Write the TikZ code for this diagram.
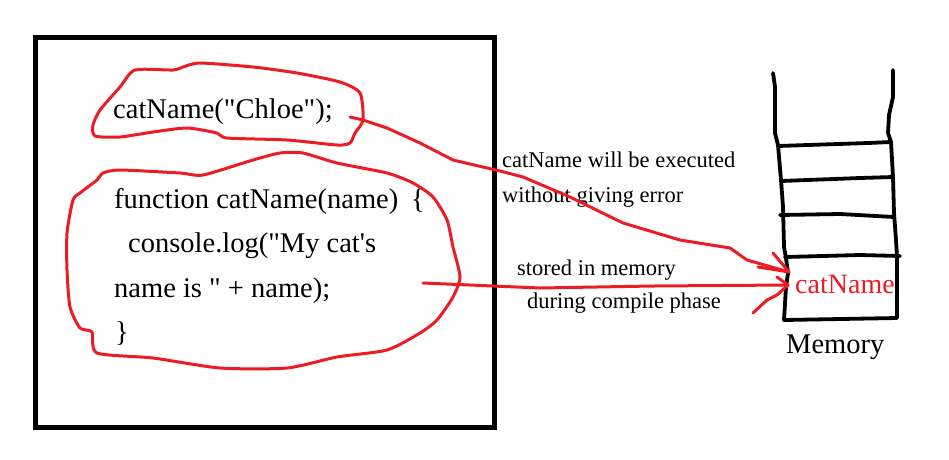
\documentclass[tikz,border=0pt]{standalone}
\usepackage{fontspec}
\setmainfont{Liberation Serif}[Ligatures=TeXOff]
\usetikzlibrary{positioning}
\definecolor{PaintRed}{RGB}{237,28,36}

\begin{document}
\begin{tikzpicture}[
    x=1pt,y=-1pt,
    code/.style={anchor=base west, inner sep=0pt, font=\fontsize{28.5}{34}\selectfont},
    note/.style={anchor=base west, inner sep=0pt, font=\fontsize{22.5}{27}\selectfont},
    ink/.style={line width=3.8pt, line cap=round, line join=round},
    redink/.style={line width=3pt, draw=PaintRed, line cap=round, line join=round}
  ]
    \useasboundingbox (0,0) rectangle (949,459);
    \draw[line width=5pt] (35,37) rectangle (494,427);
    % code in the box
    \node[code] (chloe) at (113,118) {catName("Chloe");};
    \foreach \y/\xx/\name/\lab in {208/114/fnline/function catName(name)\hspace{0.45em}\{,252/128/logline/console.log("My cat's,297/114/nameline/name is " + name);,341/115/closeline/\}} {
      \node[code] (\name) at (\xx,\y) {\lab};
    }
    \draw[redink] plot[smooth cycle, tension=0.4] coordinates {(95,136) (93,125) (100,110) (120,87) (135,70) (173,70) (183,67) (200,63) (253,67) (297,73) (340,82) (360,93) (363,120) (355,133) (350,143) (337,145) (287,140) (227,138) (217,133) (187,128) (153,132) (120,137)};
    \draw[redink] plot[smooth cycle, tension=0.4] coordinates {(103,173) (120,170) (180,173) (203,175) (253,160) (280,153) (303,153) (337,163) (387,173) (413,183) (433,197) (447,220) (453,247) (460,277) (453,297) (437,320) (420,333) (387,350) (337,357) (287,368) (220,368) (153,358) (97,353) (92,332) (80,328) (70,307) (67,270) (67,233) (73,200) (80,193) (97,180)};
    % notes
    \node[note] (execA) at (502,167) {catName will be executed};
    \node[note] (execB) at (502,202) {without giving error};
    \node[note] (storeA) at (517,275) {stored in memory};
    \node[note] (storeB) at (527,308) {during compile phase};
    % memory stack
    \draw[ink] (773,73) -- (775,87) -- (775,133) -- (778,145) -- (781,180) -- (783,207) -- (784,247) -- (786,258) -- (788,273) -- (786,287) -- (784,320) -- (897,318) -- (897,257) -- (896,240) -- (894,213) -- (893,177) -- (891,142) -- (888,133) -- (889,115) -- (893,97) -- (893,70);
    \foreach \xa/\ya/\xm/\ym/\xb/\yb in {778/146/868/143/891/142,781/181/860/178/893/177,780/215/840/214/894/217,785/257/860/255/900/256} {
      \draw[ink] (\xa,\ya) -- (\xm,\ym) -- (\xb,\yb);
    }
    \node[code, text=PaintRed, font=\fontsize{28}{34}\selectfont] (cellname) at (795,293) {catName};
    \node[code] (memlabel) at (786,353) {Memory};
    % arrows
    \coordinate (callout) at (350,117);
    \coordinate (tipA) at (789,272);
    \coordinate (fnout) at (423,283);
    \coordinate (tipB) at (788,285);
    \draw[redink] (callout) -- (363,120) -- (387,128) -- (420,143) -- (453,160) -- (500,171) -- (523,177) -- (570,197) -- (623,223) -- (680,240) -- (730,248) -- (747,260) -- (tipA);
    \draw[redink] (tipA) -- (773,253);
    \draw[redink] (tipA) -- (777,270) -- (758,267);
    \draw[redink] (fnout) -- (540,288) -- (653,286) -- (tipB);
    \draw[redink] (tipB) -- (777,277);
    \draw[redink] (tipB) -- (777,295) -- (767,300) -- (753,313);
  \end{tikzpicture}
\end{document}
